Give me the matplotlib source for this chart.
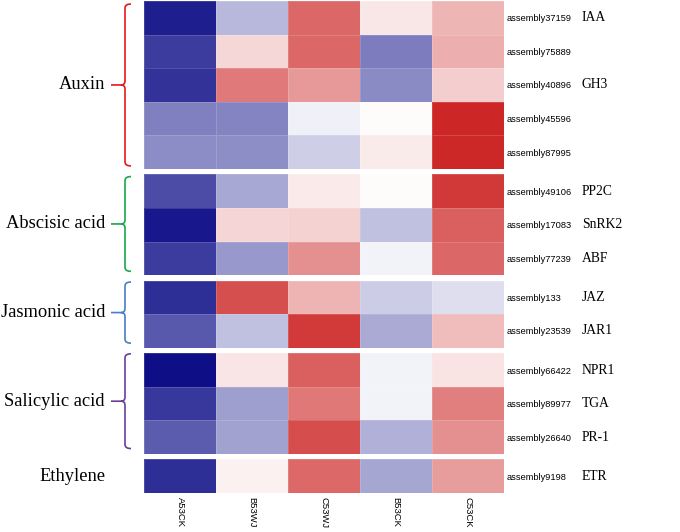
import numpy as np
import matplotlib
matplotlib.use("Agg")
import matplotlib.pyplot as plt
from matplotlib.colors import LinearSegmentedColormap
from matplotlib.path import Path
from matplotlib.patches import PathPatch
from matplotlib.transforms import blended_transform_factory

samples = ["A53CK", "B53WJ", "C53WJ", "B53CK", "C53CK"]
groups = ["Auxin", "Abscisic acid", "Jasmonic acid", "Salicylic acid", "Ethylene"]
group_sizes = [5, 3, 2, 3, 1]
group_colors = ["#e31a1c", "#17a84a", "#4a7cc9", "#6a3d9a", None]

gene_ids = ["assembly37159", "assembly75889", "assembly40896", "assembly45596", "assembly87995",
            "assembly49106", "assembly17083", "assembly77239",
            "assembly133", "assembly23539",
            "assembly66422", "assembly89977", "assembly26640",
            "assembly9198"]
gene_names = ["IAA", "", "GH3", "", "",
              "PP2C", "SnRK2", "ABF",
              "JAZ", "JAR1",
              "NPR1", "TGA", "PR-1",
              "ETR"]

values = np.array([
    [-0.88, -0.28, 0.70, 0.11, 0.34],
    [-0.76, 0.18, 0.70, -0.51, 0.37],
    [-0.80, 0.61, 0.47, -0.46, 0.22],
    [-0.50, -0.48, -0.06, 0.02, 1.00],
    [-0.45, -0.44, -0.19, 0.09, 0.99],
    [-0.70, -0.34, 0.10, 0.02, 0.91],
    [-0.90, 0.19, 0.21, -0.25, 0.73],
    [-0.76, -0.40, 0.51, -0.05, 0.70],
    [-0.82, 0.81, 0.35, -0.20, -0.13],
    [-0.65, -0.25, 0.90, -0.33, 0.31],
    [-0.94, 0.12, 0.73, -0.05, 0.13],
    [-0.78, -0.38, 0.62, -0.05, 0.59],
    [-0.64, -0.36, 0.82, -0.31, 0.51],
    [-0.82, 0.07, 0.69, -0.35, 0.45],
])

cmap = LinearSegmentedColormap.from_list("nwf", ["#000080", "#ffffff", "#cd2626"])

W, H = 680, 532
fig = plt.figure(figsize=(W / 100, H / 100), dpi=100)
gs = fig.add_gridspec(len(groups), 1, height_ratios=group_sizes,
                      left=144 / W, right=504 / W, top=1 - 1 / H, bottom=1 - 493 / H,
                      hspace=0.058)


def px(x, y):
    return x / W, 1 - y / H


def brace(y0, y1, color):
    # curly bracket in pixel coords, y measured from top
    xs, xh, xt = 125, 131, 111
    ym = (y0 + y1) / 2
    r = 4
    verts = [px(xh, y0), px(xs, y0), px(xs, y0 + r),
             px(xs, ym - r), px(xs, ym), px(xs - r, ym),
             px(xt, ym), px(xs - r, ym),
             px(xs, ym), px(xs, ym + r),
             px(xs, y1 - r), px(xs, y1), px(xh, y1)]
    codes = [Path.MOVETO, Path.CURVE3, Path.CURVE3,
             Path.LINETO, Path.CURVE3, Path.CURVE3,
             Path.LINETO, Path.MOVETO,
             Path.CURVE3, Path.CURVE3,
             Path.LINETO, Path.CURVE3, Path.CURVE3]
    patch = PathPatch(Path(verts, codes), transform=fig.transFigure,
                      fill=False, edgecolor=color, linewidth=1.2)
    fig.add_artist(patch)


start = 0
for g, (name, n, col) in enumerate(zip(groups, group_sizes, group_colors)):
    ax = fig.add_subplot(gs[g])
    block = values[start:start + n]
    ax.pcolormesh(block, cmap=cmap, vmin=-1, vmax=1,
                  edgecolors=(1, 1, 1, 0.15), linewidth=0.4)
    ax.set_xlim(0, len(samples))
    ax.set_ylim(n, 0)
    for s in ax.spines.values():
        s.set_visible(False)
    ax.yaxis.tick_right()
    ax.set_yticks(np.arange(n) + 0.5)
    ax.set_yticklabels(gene_ids[start:start + n], fontsize=6.7,
                       family="Liberation Sans")
    ax.tick_params(axis="y", length=0, pad=2)
    tr = blended_transform_factory(fig.transFigure, ax.transData)
    for i in range(n):
        ax.text(582 / W, i + 0.5, gene_names[start + i], transform=tr,
                va="center", ha="left", fontsize=9.8, family="Liberation Serif")
    if g == len(groups) - 1:
        ax.set_xticks(np.arange(len(samples)) + 0.5)
        ax.set_xticklabels(samples, rotation=270, fontsize=6.8,
                           family="Liberation Sans")
        ax.tick_params(axis="x", length=0, pad=3)
    else:
        ax.set_xticks([])

    bb = ax.get_position()
    y0 = (1 - bb.y1) * H
    y1 = (1 - bb.y0) * H
    ym = (y0 + y1) / 2
    if col is not None:
        brace(y0 + 3 - 0.4 * g * 2, y1 - 3 - 0.4 * g * 2, col)
        ym = ym - 0.4 * g * 2
    fig.text(105 / W, 1 - ym / H, name, ha="right", va="center",
             fontsize=13.3, family="Liberation Serif")
    start += n

fig.savefig("out.png", dpi=100)
